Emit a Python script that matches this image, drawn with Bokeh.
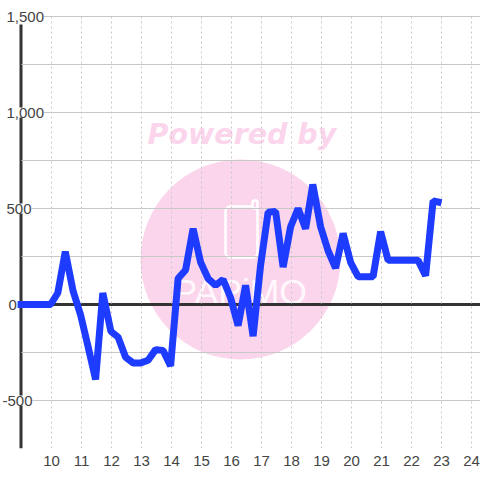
from bokeh.core.properties import value
from bokeh.embed import file_html
from bokeh.resources import INLINE
from bokeh.plotting import figure
from bokeh.models import (ColumnDataSource, LabelSet, Label, BoxAnnotation, FixedTicker, Grid)

hours = [8.87, 9.97, 10.21, 10.46, 10.72, 10.97, 11.22, 11.47, 11.71, 11.98, 12.22, 12.47, 12.73, 12.97, 13.22,
         13.47, 13.72, 13.97, 14.22, 14.47, 14.72, 14.97, 15.22, 15.47, 15.72, 15.97, 16.22, 16.47, 16.72, 16.97,
         17.22, 17.47, 17.72, 17.97, 18.22, 18.47, 18.71, 18.97, 19.22, 19.47, 19.72, 19.97, 20.22, 20.47, 20.72,
         20.97, 21.22, 21.47, 21.72, 21.97, 22.22, 22.47, 22.72, 23]
values = [0, 0, 60, 275, 70, -55, -220, -390, 60, -140, -170, -275, -305, -305, -290,
          -235, -240, -320, 135, 180, 395, 220, 135, 100, 130, 35, -110, 100, -165, 205,
          480, 485, 195, 405, 500, 395, 625, 405, 280, 190, 370, 220, 145, 145, 145,
          380, 230, 230, 230, 230, 230, 150, 540, 530]
x_ticks = list(range(10, 25))
y_grid_ticks = [-750, -500, -250, 250, 500, 750, 1000, 1250, 1500]
y_tick_values = [-500, 0, 500, 1000, 1500]
y_tick_labels = ["-500", "0", "500", "1,000", "1,500"]
y_label_left = [2, 8, 6, 6, 6]

GRID = "#c8c8c8"
AXIS = "#333333"
TEXT = "#444444"
PINK = "#fbd5ec"
BLUE = "#1e3cff"
FONT = "Liberation Sans"

FB = 448  # frame bottom in page pixels

def box(l, r, t, b, **kw):
    p.add_layout(BoxAnnotation(left=l, right=r, top=FB - t, bottom=FB - b,
                               left_units="screen", right_units="screen",
                               top_units="screen", bottom_units="screen", level="image", **kw))

x_left = 10 - 51 / 30
x_right = 10 + 429 / 30
y_top = 1500 + 16 / 0.192
axis_x = 10 - 30.5 / 30

p = figure(frame_width=480, frame_height=448, x_range=(x_left, x_right), y_range=(-750, y_top),
           output_backend="svg", toolbar_location=None, min_border_left=0, min_border_right=0,
           min_border_top=0, min_border_bottom=32, outline_line_color=None,
           background_fill_color="white", border_fill_color="white")
p.grid.visible = False
p.yaxis.visible = False

ax = p.xaxis[0]
ax.ticker = FixedTicker(ticks=x_ticks)
ax.axis_line_color = None
ax.major_tick_line_color = None
ax.minor_tick_line_color = None
ax.major_label_text_font = FONT
ax.major_label_text_font_size = "15px"
ax.major_label_text_color = TEXT
ax.major_label_standoff = 1

# watermark
box(140, 340, 159, 359, fill_color=PINK, fill_alpha=1, line_color=None, border_radius=100)
box(225, 257, 206, 257, fill_color=PINK, fill_alpha=1, line_color="white", line_width=2.5, line_alpha=1, border_radius=5)
box(252, 257, 200, 208, fill_color=PINK, fill_alpha=1, line_color="white", line_width=2.5, line_alpha=1, border_radius=2)
p.add_layout(Label(x=147, y=FB - 145 + 11, x_units="screen", y_units="screen", text="Powered by",
                   text_font="DejaVu Sans", text_font_style="bold italic", text_font_size="28.5px",
                   text_color=PINK, text_baseline="alphabetic", level="image"))
p.add_layout(Label(x=173, y=FB - 305 + 14, x_units="screen", y_units="screen", text="PAPiMO",
                   text_font=FONT, text_font_size="35.5px",
                   text_color="white", text_alpha=0.85, text_baseline="alphabetic", level="image"))

# grids
p.add_layout(Grid(dimension=1, ticker=FixedTicker(ticks=y_grid_ticks), grid_line_color=GRID, grid_line_width=1.2,
                  cross_bounds=(axis_x, x_right)))
p.add_layout(Grid(dimension=0, ticker=FixedTicker(ticks=x_ticks), grid_line_color=GRID, grid_line_width=1,
                  grid_line_dash="2 3", cross_bounds=(-750, 1500)))

# axes drawn as thick lines
p.segment(x0=[axis_x], x1=[x_right], y0=[0], y1=[0], line_color=AXIS, line_width=3, level="underlay")
p.segment(x0=[axis_x], x1=[axis_x], y0=[-750], y1=[1458], line_color=AXIS, line_width=3, level="underlay")

p.line(hours, values, line_color=BLUE, line_width=7, line_join="bevel", line_cap="butt")

src = ColumnDataSource(dict(left=y_label_left, y=y_tick_values, text=y_tick_labels))
p.add_layout(LabelSet(x="left", y="y", text="text", source=src, x_units="screen", text_baseline="middle",
                      text_align="left", text_font_size="15px", text_font=value(FONT), text_color=TEXT,
                      background_fill_color="white", level="overlay"))

open("out.html", "w").write(file_html(p, INLINE))
